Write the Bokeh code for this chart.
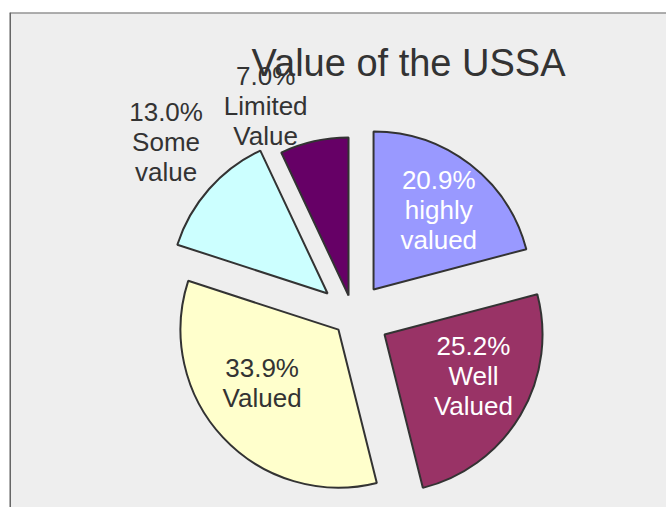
import math
from bokeh.plotting import figure
from bokeh.models import Range1d, ColumnDataSource, Span
from bokeh.core.properties import value
from bokeh.embed import file_html
from bokeh.resources import INLINE

# ---------------- data ----------------
title_text = "Value of the USSA"
categories = ["highly\nvalued", "Well\nValued", "Valued", "Some\nvalue", "Limited\nValue"]
percents = [20.9, 25.2, 33.9, 13.0, 7.0]
colors = ["#9999ff", "#993366", "#ffffcc", "#ccffff", "#660066"]
label_colors = ["#ffffff", "#ffffff", "#333333", "#333333", "#333333"]

# ---------------- style / layout ----------------
explode = [33.5, 36.5, 20.0, 34.0, 21.0]        # px offset of each slice
label_r = [0.65, 0.62, 0.59, 1.40, 1.31]         # label distance as fraction of radius
label_dtheta = [1.8, -5.8, 8.0, 1.7, -11.0]      # degrees nudge from mid-angle
W, H = 666, 507
ML, MT = 9, 12
FW, FH = W - ML, H - MT
R = 158.0
CX, CY = 352.6 - ML, H - 315.5      # pie centre in frame data units (y up)
FONT = "Liberation Sans"

p = figure(width=W, height=H, output_backend="svg", toolbar_location=None,
           x_range=Range1d(0, FW), y_range=Range1d(0, FH),
           min_border_left=ML, min_border_top=MT, min_border_right=0, min_border_bottom=0)
p.axis.visible = False
p.grid.visible = False
p.background_fill_color = "#eeeeee"
p.border_fill_color = "#ffffff"
p.outline_line_color = None
p.add_layout(Span(location=0, dimension="height", line_color="#666666", line_width=3))
p.add_layout(Span(location=FH, dimension="width", line_color="#666666", line_width=2))

total = sum(percents)
xs, ys, sa, ea, lx, ly, texts = [], [], [], [], [], [], []
cum = 0.0
for i, v in enumerate(percents):
    t1 = cum / total * 360.0
    cum += v
    t2 = cum / total * 360.0
    mid = (t1 + t2) / 2.0
    dx, dy = math.sin(math.radians(mid)), math.cos(math.radians(mid))
    ax, ay = CX + explode[i] * dx, CY + explode[i] * dy
    xs.append(ax); ys.append(ay)
    sa.append(math.radians(90.0 - t2)); ea.append(math.radians(90.0 - t1))
    la = math.radians(mid + label_dtheta[i])
    lx.append(ax + label_r[i] * R * math.sin(la))
    ly.append(ay + label_r[i] * R * math.cos(la))
    texts.append(f"{v:.1f}%\n{categories[i]}")

src = ColumnDataSource(dict(x=xs, y=ys, sa=sa, ea=ea, color=colors,
                            lx=lx, ly=ly, text=texts, tc=label_colors))
p.wedge(x="x", y="y", radius=R, start_angle="sa", end_angle="ea", direction="anticlock",
        fill_color="color", line_color="#333333", line_width=2, source=src)
p.text(x="lx", y="ly", text="text", text_color="tc", text_font=value(FONT),
       text_font_size="26px", text_align="center", text_baseline="middle",
       text_line_height=1.0, source=src)

p.text(x=[408 - ML], y=[H - 62], text=[title_text], text_color="#333333", text_font=value(FONT),
       text_font_size="38px", text_align="center", text_baseline="alphabetic")

open("out.html", "w").write(file_html(p, INLINE))
